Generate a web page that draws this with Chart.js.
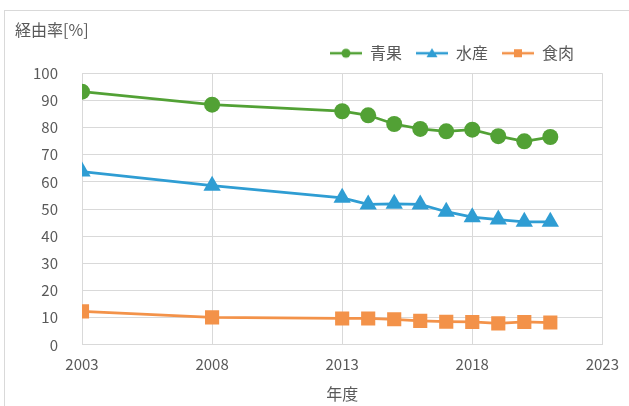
<!DOCTYPE html>
<html>
<head>
<meta charset="utf-8">
<script src="https://cdn.jsdelivr.net/npm/chart.js@4.4.1/dist/chart.umd.min.js"></script>
<style>
  body { margin: 0; background: #fff; }
  #wrap { position: relative; width: 629px; height: 406px; overflow: hidden; }
  #frame { position: absolute; left: 4px; top: 10px; width: 700px; height: 500px; border: 1px solid #d9d9d9; }
  #chart { position: absolute; left: 0; top: 0; }
</style>
</head>
<body>
<div id="wrap">
  <div id="frame"></div>
  <canvas id="chart" width="629" height="406"></canvas>
</div>
<script>
const years = [2003, 2008, 2013, 2014, 2015, 2016, 2017, 2018, 2019, 2020, 2021];
const produce = [93.2, 88.4, 86.0, 84.5, 81.3, 79.5, 78.6, 79.2, 76.8, 74.9, 76.5];
const seafood = [63.8, 58.6, 54.1, 51.7, 51.9, 51.7, 49.0, 47.0, 46.1, 45.3, 45.3];
const meat = [12.3, 10.1, 9.7, 9.7, 9.4, 8.8, 8.5, 8.4, 7.9, 8.4, 8.2];
const seriesNames = ['青果', '水産', '食肉'];
const seriesColors = ['#52a135', '#2f9dd3', '#f39249'];
const markerStyles = ['circle', 'triangle', 'rect'];

const textColor = '#595959';
const gridColor = '#d9d9d9';
const fontFamily = '"Noto Sans CJK JP", "Noto Sans", sans-serif';

// small line + marker swatch for the legend
function legendSwatch(color, style) {
  const c = document.createElement('canvas');
  c.width = 32; c.height = 12;
  const g = c.getContext('2d');
  g.strokeStyle = color; g.fillStyle = color; g.lineWidth = 2.5;
  g.beginPath(); g.moveTo(0, 6); g.lineTo(32, 6); g.stroke();
  g.beginPath();
  if (style === 'circle') g.arc(16, 6, 4.5, 0, Math.PI * 2);
  else if (style === 'triangle') { g.moveTo(16, 1); g.lineTo(21.5, 10); g.lineTo(10.5, 10); g.closePath(); }
  else g.rect(12, 2, 8, 8);
  g.fill();
  return c;
}

function toPoints(values) {
  return values.map((v, i) => ({ x: years[i], y: v }));
}

const seriesValues = [produce, seafood, meat];
const swatches = seriesColors.map((c, i) => legendSwatch(c, markerStyles[i]));

const datasets = seriesNames.map((name, i) => ({
  label: name,
  data: toPoints(seriesValues[i]),
  borderColor: seriesColors[i],
  backgroundColor: seriesColors[i],
  borderWidth: 2.75,
  pointStyle: markerStyles[i],
  pointRadius: i === 0 ? 8 : 10,
  pointBorderWidth: 0,
  tension: 0
}));

// legend sits a bit left of the plot's right edge, with some room below it
const legendNudge = {
  id: 'legendNudge',
  beforeInit(chart) {
    const legend = chart.legend;
    const fit = legend.fit;
    legend.fit = function () {
      fit.call(this);
      this.height += 2;
      this.lineWidths[0] += 17;
    };
  }
};

new Chart(document.getElementById('chart').getContext('2d'), {
  type: 'line',
  data: { datasets: datasets },
  plugins: [legendNudge],
  options: {
    responsive: false,
    animation: false,
    layout: { padding: { left: 15, right: 24, top: 10, bottom: 2 } },
    plugins: {
      title: {
        display: true,
        text: '経由率[%]',
        align: 'start',
        color: textColor,
        font: { family: fontFamily, size: 16, weight: 'normal' },
        padding: { top: 10, bottom: -8 }
      },
      legend: {
        display: true,
        align: 'end',
        labels: {
          color: textColor,
          font: { family: fontFamily, size: 16 },
          usePointStyle: true,
          pointStyleWidth: 32,
          padding: 14,
          generateLabels: chart => chart.data.datasets.map((ds, i) => ({
            text: ds.label,
            pointStyle: swatches[i],
            fontColor: textColor,
            datasetIndex: i,
            lineWidth: 0
          }))
        }
      },
      tooltip: { enabled: false }
    },
    scales: {
      x: {
        type: 'linear',
        min: 2003,
        max: 2023,
        grid: { color: gridColor, drawTicks: false },
        border: { color: gridColor },
        ticks: {
          stepSize: 5,
          color: textColor,
          padding: 10,
          font: { family: fontFamily, size: 15 },
          callback: v => String(v)
        },
        title: {
          display: true,
          text: '年度',
          color: textColor,
          font: { family: fontFamily, size: 16 },
          padding: { top: 2, bottom: 0 }
        }
      },
      y: {
        min: 0,
        max: 100,
        grid: { color: gridColor, drawTicks: false },
        border: { color: gridColor },
        ticks: {
          stepSize: 10,
          color: textColor,
          padding: 24,
          font: { family: fontFamily, size: 15 }
        },
        afterFit: scale => { scale.width = 67; }
      }
    }
  }
});
</script>
</body>
</html>
